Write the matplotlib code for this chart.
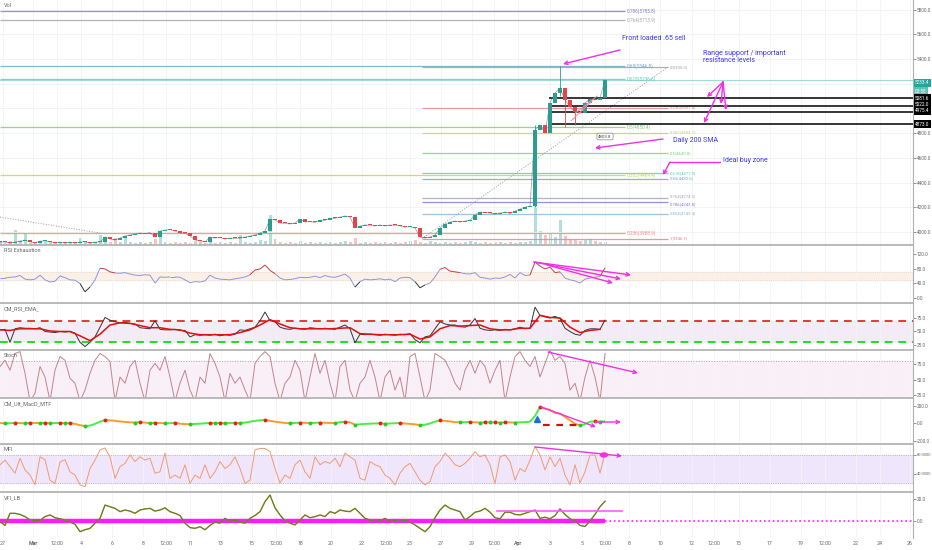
import numpy as np
import matplotlib.pyplot as plt
from matplotlib.collections import LineCollection
from matplotlib.patches import FancyArrowPatch, Ellipse
from matplotlib.lines import Line2D

plt.rcParams['font.family'] = ['Roboto', 'DejaVu Sans']

# ---------------- data (one value per 2h bar) ----------------
close = [3919, 3919, 3911, 3919, 3927, 3935, 3919, 3911, 3927, 3927,
         3919, 3911, 3919, 3911, 3919, 3911, 3919, 3922, 3911, 3919,
         3919, 3960, 3943, 3935, 3951, 3968, 3976, 3984, 3992, 3988,
         3995, 3960, 4008, 4016, 4020, 4008, 3992, 3990, 3968, 3935,
         3927, 3919, 3960, 3951, 3955, 3943, 3951, 3948, 3951, 3960,
         3968, 3976, 3992, 4008, 4105, 4097, 4073, 4070, 4065, 4073,
         4105, 4081, 4084, 4078, 4097, 4094, 4113, 4110, 4121, 4130,
         4121, 4032, 4049, 4057, 4054, 4049, 4057, 4049, 4057, 4054,
         4049, 4040, 4043, 4032, 3960, 3951, 3960, 3976, 4032, 4065,
         4081, 4089, 4081, 4089, 4097, 4138, 4162, 4158, 4154, 4146,
         4154, 4162, 4150, 4170, 4186, 4202, 4211, 4826, 4866, 4802,
         5045, 5126, 5166, 5069, 5012, 4972, 4964, 5045, 5077, 5069,
         5085, 5233.4]
wick_bars = [107, 112, 113, 115]
wick_high = [4870, 5345, 5095, 5010]
wick_low = [4205, 5100, 4850, 4870]

volume = [3, 2, 4, 15, 3, 12, 2, 3, 2, 3,
          2, 2, 3, 2, 3, 2, 7, 3, 2, 3,
          10, 4, 3, 7, 3, 8, 3, 2, 3, 2,
          3, 6, 8, 3, 2, 3, 2, 3, 2, 4,
          3, 2, 3, 2, 3, 2, 3, 2, 10, 3,
          2, 3, 5, 4, 30, 6, 3, 2, 3, 2,
          4, 2, 3, 2, 3, 2, 3, 2, 3, 4,
          3, 7, 2, 3, 2, 3, 2, 3, 2, 3,
          2, 3, 4, 5, 3, 2, 4, 3, 2, 3,
          2, 3, 2, 3, 4, 3, 2, 3, 2, 3,
          3, 2, 3, 2, 3, 3, 4, 45, 14, 10,
          12, 8, 25, 9, 6, 5, 4, 5, 6, 4,
          3, 3]

rsi_exh = [55, 55, 57, 58, 62, 52, 50, 52, 63, 50,
           44, 46, 61, 56, 50, 49, 40, 17, 30, 50,
           82, 80, 72, 69, 68, 70, 66, 63, 62, 64,
           63, 41, 58, 57, 58, 58, 57, 50, 42, 45,
           44, 47, 63, 55, 52, 51, 50, 53, 55, 58,
           64, 77, 80, 91, 76, 67, 55, 50, 51, 53,
           57, 56, 57, 60, 56, 62, 58, 57, 61, 66,
           55, 30, 45, 52, 50, 51, 53, 50, 52, 45,
           55, 57, 56, 45, 28, 36, 41, 58, 79, 84,
           74, 72, 70, 67, 66, 70, 57, 55, 52, 55,
           54, 58, 65, 55, 70, 62, 63, 99, 88, 80,
           85, 70, 72, 55, 50, 47, 41, 52, 55, 57,
           60, 83]

cm_rsi = [53, 54, 30, 55, 57, 56, 56, 55, 57, 50,
          49, 48, 50, 49, 50, 47, 30, 22, 30, 40,
          58, 76, 71, 68, 66, 67, 65, 64, 57, 56,
          55, 70, 54, 53, 53, 54, 52, 52, 40, 44,
          43, 44, 43, 45, 42, 44, 43, 45, 53, 52,
          55, 58, 70, 86, 70, 68, 58, 55, 54, 56,
          55, 54, 57, 56, 55, 56, 55, 54, 58, 62,
          55, 29, 45, 44, 45, 44, 43, 45, 44, 43,
          45, 44, 46, 35, 29, 40, 42, 55, 68, 64,
          62, 62, 59, 58, 62, 74, 56, 53, 52, 53,
          52, 54, 53, 55, 58, 55, 56, 95, 80, 77,
          75, 78, 74, 56, 50, 45, 43, 52, 55, 55,
          54, 71]
# EMA, every second bar
cm_ema = [53, 52, 55, 55, 55, 51, 50, 50, 42, 33,
          45, 62, 66, 65, 61, 57, 57, 54, 53, 47,
          44, 44, 44, 44, 48, 53, 62, 72, 64, 57,
          55, 55, 55, 55, 56, 57, 46, 45, 44, 44,
          44, 45, 36, 40, 55, 61, 60, 61, 62, 55,
          53, 53, 56, 56, 80, 76, 75, 58, 48, 52,
          54]

stoch = [71, 81, 65, 92, 95, 60, 15, 28, 71, 54,
         15, 65, 87, 81, 52, 44, 15, 33, 60, 81,
         92, 87, 79, 15, 54, 44, 71, 81, 44, 15,
         65, 76, 65, 87, 54, 15, 44, 65, 33, 15,
         54, 44, 92, 76, 54, 15, 60, 44, 54, 33,
         15, 76, 87, 95, 87, 44, 15, 44, 54, 81,
         65, 15, 54, 92, 60, 81, 44, 15, 71, 81,
         33, 15, 44, 54, 81, 54, 15, 54, 65, 33,
         54, 15, 87, 92, 54, 15, 33, 92, 87, 81,
         65, 44, 33, 65, 81, 60, 81, 71, 44, 65,
         81, 15, 54, 87, 95, 81, 71, 87, 54, 76,
         97, 81, 87, 76, 33, 44, 15, 54, 81, 54,
         15, 92]

macd = [0, -5, -3, 2, 0, -5, 3, 0, -2, 4,
        -5, 0, 2, -3, 0, -10, -25, -35, -30, -10,
        15, 35, 30, 25, 18, 12, 8, 5, 10, 5,
        -2, 3, 0, -4, -2, 3, -8, -12, -15, -10,
        -8, -3, 0, -2, 2, -4, 0, 3, 0, 5,
        15, 25, 30, 35, 25, 15, 8, 0, -3, 0,
        5, 3, -2, 2, 5, 3, 0, -2, 10, 15,
        8, -20, -15, -10, -8, -5, -3, -8, -5, -3,
        0, -5, -10, -15, -25, -20, -5, 15, 30, 25,
        18, 10, 8, 10, 12, 8, 5, 8, 6, 8,
        5, 8, 7, 5, 8, 10, 15, 80, 185, 165,
        150, 115, 110, 70, 30, -10, -25, -15, 15, 20,
        15, 20]

mfi = [59, 69, 55, 41, 73, 48, 37, 16, 76, 70,
       26, 19, 65, 70, 44, 37, 16, 12, 51, 69,
       91, 95, 76, 30, 55, 62, 80, 66, 76, 69,
       73, 41, 44, 84, 30, 37, 30, 59, 19, 37,
       30, 59, 30, 44, 66, 51, 59, 76, 51, 19,
       26, 91, 94, 94, 87, 51, 20, 37, 30, 59,
       69, 44, 30, 76, 59, 66, 62, 73, 55, 84,
       76, 69, 30, 26, 66, 59, 55, 37, 30, 16,
       41, 55, 62, 44, 26, 16, 23, 55, 66, 84,
       73, 59, 55, 62, 73, 87, 76, 80, 59, 19,
       76, 80, 66, 26, 51, 44, 69, 98, 80, 48,
       76, 55, 73, 37, 16, 59, 20, 44, 80, 80,
       41, 84]

vfi = [-0.6, -4, 7, 7, 6, 4, 1, 0.5, 0.5, 4,
       5.5, 3, 2, 0.9, -1, -3, -9.7, -8, -6.7, -2,
       2.4, 14.5, 13, 11.5, 8.5, 10, 9, 7, 10, 11,
       11.5, 9, 10, 12, 8.5, 7, 5, -2, -6, -6.7,
       -5.2, -8, -4, -1, -2, 2.4, -0.6, 0.9, -1, -2,
       2.4, 5, 8.5, 17.6, 23.6, 12, 5.5, 0, -2, -3.6,
       0.9, 5.5, 3, 3.9, 5.5, 4, 8.5, 7, 10, 9,
       8.5, 11.5, 7, 2.4, 0.9, -0.6, 0, 2.4, -0.6, 0.5,
       -0.6, 0.9, -1, -3.6, -6.7, -9.7, -5.2, 3, 10, 14.5,
       11.5, 10, 8.5, 0.9, 4, 8, 9, 11.5, 8, 3,
       2, 8, 8, 6, 5.5, 7, 8.5, 10, 2.4, 3.5,
       2, 5, 11, 6, 2, 0, -4, -5, 0, 6,
       13, 18]

# fib retracements
fib_a_levels = ['0.786', '0.764', '0.65', '0.618', '0.5', '0.382', '0.236']
fib_a_prices = [5785.8, 5713.9, 5346.8, 5236.6, 4850.4, 4464.4, 3988.9]
fib_b_levels = ['0', '0.236', '0.382', '0.5', '0.618', '0.65', '0.764', '0.786', '0.854', '1']
fib_b_prices = [5335.0, 5007.4, 4804.7, 4640.8, 4477.0, 4432.6, 4274.3, 4243.8, 4149.4, 3946.7]
fib_colors = {'0': '#a0a0a0', '0.236': '#f08a8a', '0.382': '#c8d45a', '0.5': '#7fcf7f',
              '0.618': '#5ccfb4', '0.65': '#6ea9c9', '0.764': '#a6a6b0', '0.786': '#7c7fd6',
              '0.854': '#8db9d9', '1': '#f07f8a'}
range_levels = [5081.6, 5022.0, 4975.4, 4873.0]

tick_px = [3, 33, 57, 81, 112, 143, 166, 190, 221, 252, 276, 300, 331, 362, 386, 410, 441,
           472, 494, 518, 550, 582, 605, 629, 660, 692, 714, 739, 770, 801, 825, 856, 880, 910]
tick_lbl = ['27', 'Mar', '12:00', '4', '6', '8', '12:00', '11', '13', '15', '12:00', '18', '20',
            '22', '12:00', '25', '27', '29', '12:00', 'Apr', '3', '5', '12:00', '8', '10', '12',
            '12:00', '15', '17', '19', '12:00', '22', '24', '26']

# ---------------- layout ----------------
W, H = 932, 550
AXR = 913
BAR = 5.0
MAG = '#f22ee8'
NOTE = '#3b37f5'
n = len(close)
x = np.arange(n)
tick_pos = [p / BAR for p in tick_px]

fig = plt.figure(figsize=(W / 100, H / 100), dpi=100)
fig.patch.set_facecolor('white')


def P(px, py):
    return (px / W, 1 - py / H)


def style_y(ax, yticks, labels, size=3.4):
    ax.yaxis.tick_right()
    ax.set_yticks(yticks)
    ax.set_yticklabels(labels)
    ax.tick_params(axis='y', labelsize=size, colors='#666666', length=2, width=0.5, pad=0.8,
                   left=False, labelleft=False, right=True, labelright=True)


def pane(top, bottom, ylim, yticks, fmt, label, size=3.4):
    ax = fig.add_axes([0, 1 - bottom / H, AXR / W, (bottom - top) / H])
    ax.set_xlim(0, AXR / BAR)
    ax.set_ylim(*ylim)
    style_y(ax, yticks, [fmt % t for t in yticks], size)
    ax.set_xticks(tick_pos)
    ax.tick_params(axis='x', bottom=False, labelbottom=False)
    ax.grid(axis='x', color='#f4f4f6', lw=0.6)
    ax.spines['left'].set_visible(False)
    ax.spines['bottom'].set_visible(False)
    ax.spines['top'].set_color('#b4b4b4')
    ax.spines['top'].set_linewidth(1.3)
    ax.spines['right'].set_color('#b0b0b0')
    ax.spines['right'].set_linewidth(0.8)
    ax.text(4 / AXR, 1 - 5.5 / (bottom - top), label, transform=ax.transAxes,
            fontsize=4, color='#666666', va='center')
    return ax


# ---- main price pane ----
main_ticks = list(range(4000, 5801, 200))
# 5000 / 5200 sit under the price badges
main_lbls = ['' if t in (5000, 5200) else '%.1f' % t for t in main_ticks]
ax = pane(0, 245, (3895, 5878), main_ticks, '%.1f', 'Vol')
ax.spines['top'].set_visible(False)
ax.grid(axis='y', color='#f0f1f4', lw=0.6)

# volume on its own scale at the bottom, behind the price
axv = ax.twinx()
axv.set_ylim(0, 245)
axv.set_axis_off()
axv.set_zorder(ax.get_zorder() - 1)
ax.patch.set_visible(False)
style_y(ax, main_ticks, main_lbls)

opens = np.array([close[0]] + close[:-1], dtype=float)
closes = np.array(close, dtype=float)
up = closes >= opens
vcol = np.where(up, '#26a69a', '#ef5350')
axv.bar(x, volume, width=0.6, color=vcol, alpha=0.35)

# fib set A
label_va = {'0.764': 'bottom', '0.786': 'top'}
for lv, pr in zip(fib_a_levels, fib_a_prices):
    c = fib_colors[lv]
    ax.hlines(pr, 0, 625 / BAR, color=c, lw=0.9, alpha=0.85, zorder=2)
    ax.text(627 / BAR, pr, '%s(%.1f)' % (lv, pr), fontsize=3.4, color=c, va='center')
# fib set B
for lv, pr in zip(fib_b_levels, fib_b_prices):
    c = fib_colors[lv]
    ax.hlines(pr, 422 / BAR, 668 / BAR, color=c, lw=0.9, alpha=0.85, zorder=2)
    ax.text(670 / BAR, pr, '%s(%.1f)' % (lv, pr), fontsize=3.1, color=c,
            va=label_va.get(lv, 'center'))

# trend lines
ax.plot([0, 100 / BAR], [4121, 3992], ls=':', color='#9a9a9a', lw=0.7)
ax.plot([422 / BAR, 668 / BAR], [fib_b_prices[-1], fib_b_prices[0]], ls=':', color='#9a9a9a', lw=0.7)

# last price line
ax.axhline(close[-1], color='#9fdcd2', lw=0.8, zorder=2)

# range lines
for lv in range_levels:
    ax.hlines(lv, 549 / BAR, AXR / BAR, color='black', lw=1.1, zorder=4)

# candles
ax.plot(x, closes, color='#5a5a5a', lw=0.5, alpha=0.6, zorder=5)
body_lo = np.minimum(opens, closes)
body_h = np.maximum(np.abs(closes - opens), 8)
ccol = np.where(up, '#2a9d8f', '#e0474c')
ax.vlines(x[wick_bars], wick_low, wick_high, color=ccol[wick_bars], lw=0.6, zorder=5)
ax.bar(x, body_h, bottom=body_lo, width=0.7, color=ccol, zorder=6)

# small channel lines
ax.plot([575 / BAR, 597 / BAR], [4960, 5100], color='#f08aa0', lw=0.7, zorder=6)
ax.plot([571 / BAR, 592 / BAR], [4900, 5060], color='#f08aa0', lw=0.7, zorder=6)

# ---- RSI exhaustion ----
a1 = pane(245, 303, (-13.8, 146), [0, 40, 80, 120], '%.1f', 'RSI Exhaustion')
a1.axhspan(50, 72, color='#fbf0e8', zorder=0)
a1.axhline(72, color='#e8cfc0', ls=':', lw=0.6)
a1.axhline(50, color='#e8cfc0', ls=':', lw=0.6)
pts = np.column_stack([x, rsi_exh]).reshape(-1, 1, 2)
seg = np.concatenate([pts[:-1], pts[1:]], axis=1)
rv = np.array(rsi_exh, dtype=float)
mid = (rv[:-1] + rv[1:]) / 2
scol = ['#d23a3a' if m > 70 else ('#333333' if m < 38 else '#8a97e0') for m in mid]
a1.add_collection(LineCollection(seg, colors=scol, lw=0.7))

# ---- CM_RSI_EMA ----
a2 = pane(303, 350, (15.7, 102.8), [25, 50, 75], '%.1f', 'CM_RSI_EMA_')
a2.axhspan(30, 70, color='#f3ebf6', zorder=0)
a2.axhline(70, color='#e53935', ls=(0, (4, 3)), lw=1.4)
a2.axhline(30, color='#22dd22', ls=(0, (4, 3)), lw=1.4)
a2.plot(x, cm_rsi, color='#333333', lw=0.7)
a2.plot(x[::2][:len(cm_ema)], cm_ema, color='#e01010', lw=1.1)

# ---- Stoch ----
a3 = pane(350, 398, (20.2, 97.6), [25, 50, 75], '%.1f', 'Stoch')
a3.axhspan(20, 80, color='#f8f0f6', zorder=0)
a3.axhline(80, color='#aaaaaa', ls=':', lw=0.7)
a3.plot(x, stoch, color='#c4828e', lw=0.7)

# ---- CM_Ult_MacD_MTF ----
a4 = pane(398, 444, (-240, 286), [-200, 0, 200], '%.1f', 'CM_Ult_MacD_MTF')
mv = np.array(macd, dtype=float)
pts = np.column_stack([x, mv]).reshape(-1, 1, 2)
seg = np.concatenate([pts[:-1], pts[1:]], axis=1)
mcol = ['#44ee44' if d >= 0 else '#ff9a2a' for d in np.diff(mv)]
a4.add_collection(LineCollection(seg, colors=mcol, lw=1.4))
peaks = [i for i in range(1, n - 1) if mv[i] > mv[i - 1] and mv[i] >= mv[i + 1]]
troughs = [i for i in range(1, n - 1) if mv[i] < mv[i - 1] and mv[i] <= mv[i + 1]]
a4.plot(x[peaks], mv[peaks], 'o', color='#e81e1e', ms=1.8)
a4.plot(x[troughs], mv[troughs], 'o', color='#22cc22', ms=1.8)
a4.hlines(-20, 543 / BAR, 582 / BAR, color='#d01010', lw=1.6, ls=(0, (3, 3)))
a4.plot(537 / BAR, 50, marker='^', color='#1a6fe0', ms=4)

# ---- MFI ----
a5 = pane(444, 492, (0.7, 103.5), [40, 80], '%.4f', 'MFI', size=2.9)
a5.axhspan(20, 80, color='#efe6fb', zorder=0)
a5.axhline(80, color='#aaaaaa', ls=':', lw=0.6)
a5.axhline(20, color='#aaaaaa', ls=':', lw=0.6)
a5.plot(x, mfi, color='#f09a72', lw=0.7)

# ---- VFI ----
a6 = pane(492, 538, (-15.5, 26.4), [0, 20], '%.1f', 'VFI_LB')
a6.plot([0, n - 1], [0, 0], color='#ff1aff', lw=3.2, solid_capstyle='butt')
a6.plot([n - 1, AXR / BAR], [0, 0], color='#ff1aff', lw=1.2, ls=':')
a6.plot(x, vfi, color='#a6d46c', lw=0.5)
a6.plot(x, vfi, color='#6f7d1c', lw=1.0)
a6.tick_params(axis='x', bottom=True, labelbottom=True, labelsize=3.8, colors='#666666',
               length=0, pad=2.5)
a6.set_xticklabels(tick_lbl)
for t in a6.get_xticklabels():
    if t.get_text() in ('Mar', 'Apr'):
        t.set_fontweight('bold')

# ---------------- right axis badges ----------------
def badge(py, txt, fc, tc='white'):
    fig.text(915 / W, 1 - py / H, txt, fontsize=3.4, color=tc, va='center', ha='left',
             bbox=dict(boxstyle='square,pad=0.25', fc=fc, ec='none'), zorder=10)


badge(83, '5233.4', '#26a69a')
badge(91, '03:58', '#5cc2b4')
for lv, py in zip(range_levels, [98, 105, 111, 124]):
    badge(py, '%.1f' % lv, 'black')

# ---------------- annotations ----------------
def arrow(p0, p1, lw=1.0, color=MAG):
    fig.add_artist(FancyArrowPatch(P(*p0), P(*p1), transform=fig.transFigure,
                                   arrowstyle='->', mutation_scale=6, color=color,
                                   lw=lw, shrinkA=0, shrinkB=0, zorder=9))


def seg_line(p0, p1, lw=1.0, color=MAG):
    fig.add_artist(Line2D([p0[0] / W, p1[0] / W], [1 - p0[1] / H, 1 - p1[1] / H],
                          transform=fig.transFigure, color=color, lw=lw, zorder=9))


fig.text(*P(622, 39), 'Front loaded .65 sell', fontsize=5, color=NOTE, va='center')
arrow((620, 50), (563, 64))
fig.text(*P(703, 57), 'Range support / important\nresistance levels', fontsize=5,
         color=NOTE, va='center', linespacing=0.95)
for head in [(707, 97), (721, 104), (726, 110), (704, 123)]:
    arrow((723, 82), head)
fig.text(*P(673, 140), 'Daily 200 SMA', fontsize=5, color=NOTE, va='center')
arrow((663, 139), (595, 148))
fig.text(*P(605, 136.5), '4803.8', fontsize=3.2, color='#444444', va='center', ha='center',
         bbox=dict(boxstyle='round,pad=0.3', fc='white', ec='#888888', lw=0.5), zorder=10)
fig.text(*P(723, 160), 'Ideal buy zone', fontsize=5, color=NOTE, va='center')
seg_line((720, 162), (670, 162))
arrow((670, 162), (663, 175))

arrow((534, 262), (631, 275))
arrow((534, 262), (621, 279))
arrow((547, 265), (613, 283))
arrow((548, 352), (638, 373))
arrow((541, 407), (596, 427))
arrow((595, 422), (621, 422))
arrow((535, 447), (622, 456))
fig.add_artist(Ellipse(P(604, 455), 7 / W, 4 / H, transform=fig.transFigure,
                       color=MAG, zorder=9))
seg_line((497, 511), (622, 511), lw=1.2, color='#ff5cf0')

fig.savefig('out.png', dpi=100, facecolor='white')
